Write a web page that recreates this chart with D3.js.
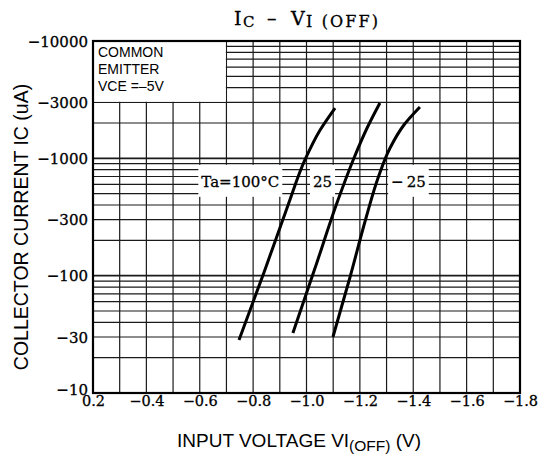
<!DOCTYPE html>
<html>
<head>
<meta charset="utf-8">
<script src="https://cdn.jsdelivr.net/npm/d3@7"></script>
<style>
  body { margin: 0; background: #fff; }
  svg { display: block; }
</style>
</head>
<body>
<main></main>
<script>
const w = 546;
const h = 455;
const plotLeft = 93;
const plotRight = 520;
const plotTop = 41;
const plotBottom = 393;

// axis ticks
const xTickValues = [-0.2, -0.4, -0.6, -0.8, -1.0, -1.2, -1.4, -1.6, -1.8];
const xTickLabels = ["0.2", "\u22120.4", "\u22120.6", "\u22120.8", "\u22121.0", "\u22121.2", "\u22121.4", "\u22121.6", "\u22121.8"];
const yTickValues = [10, 30, 100, 300, 1000, 3000, 10000];
const yTickLabels = ["\u221210", "\u221230", "\u2212100", "\u2212300", "\u22121000", "\u22123000", "\u221210000"];

// curves: input voltage (V) vs |collector current| (uA)
const seriesNames = ["Ta=100\u00b0C", "25", "\u2212\u200925"];
const vin100 = [-0.747, -0.841, -0.931, -0.994, -1.051, -1.107];
const ic100 = [28.3, 107, 400, 968, 1744, 2685];
const vin25 = [-0.949, -1.032, -1.118, -1.178, -1.227, -1.275];
const ic25 = [32.5, 116, 441, 1007, 1813, 2962];
const vinM25 = [-1.099, -1.163, -1.223, -1.268, -1.313, -1.365, -1.425];
const icM25 = [30, 97, 310, 680, 1225, 1924, 2738];

const noteLines = ["COMMON", "EMITTER", "VCE =\u20135V"];

const svg = d3
  .select("main")
  .append("svg")
  .attr("width", w)
  .attr("height", h);

const x = d3.scaleLinear().domain([-0.2, -1.8]).range([plotLeft, plotRight]);
const y = d3.scaleLog().domain([10, 10000]).range([plotBottom, plotTop]);

const grid = svg.append("g").attr("stroke", "#1a1a1a");

// vertical grid every 0.1 V
const xGrid = d3.range(17).map((i) => -0.2 - i * 0.1);
grid
  .selectAll(".vline")
  .data(xGrid)
  .join("line")
  .attr("x1", (d) => x(d))
  .attr("x2", (d) => x(d))
  .attr("y1", plotTop)
  .attr("y2", plotBottom)
  .attr("stroke-width", 1.2);

// horizontal log grid
const yGrid = [];
[10, 100, 1000].forEach((dec) => {
  for (let k = 1; k < 10; k++) yGrid.push(k * dec);
});
yGrid.push(10000);
grid
  .selectAll(".hline")
  .data(yGrid)
  .join("line")
  .attr("x1", plotLeft)
  .attr("x2", plotRight)
  .attr("y1", (d) => y(d))
  .attr("y2", (d) => y(d))
  .attr("stroke-width", (d) => ([10, 100, 1000, 10000].includes(d) ? 1.8 : 1.2));

// note box in the corner
svg
  .append("rect")
  .attr("x", x(-0.2))
  .attr("y", y(10000))
  .attr("width", x(-0.7) - x(-0.2) - 0.6)
  .attr("height", y(3000) - y(10000) - 0.6)
  .attr("fill", "#fff");

svg
  .append("g")
  .selectAll("text")
  .data(noteLines)
  .join("text")
  .attr("x", plotLeft + 5)
  .attr("y", (d, i) => plotTop + 16 + i * 16.8)
  .attr("font-family", "Liberation Sans, Arial, sans-serif")
  .attr("font-size", 14)
  .attr("fill", "#000")
  .text((d) => d);

// curves
const line = d3
  .line()
  .x((d) => x(d[0]))
  .y((d) => y(d[1]))
  .curve(d3.curveMonotoneY);

const curves = [
  d3.zip(vin100, ic100),
  d3.zip(vin25, ic25),
  d3.zip(vinM25, icM25),
];

svg
  .append("g")
  .selectAll("path")
  .data(curves)
  .join("path")
  .attr("d", line)
  .attr("fill", "none")
  .attr("stroke", "#000")
  .attr("stroke-width", 3)
  .attr("stroke-linecap", "butt");

// curve labels with white backing
const labelPos = [
  [-0.752, 640],
  [-1.06, 640],
  [-1.382, 640],
];
const labels = svg.append("g");
seriesNames.forEach((name, i) => {
  const g = labels.append("g");
  const t = g
    .append("text")
    .attr("x", x(labelPos[i][0]))
    .attr("y", y(labelPos[i][1]) + 6)
    .attr("text-anchor", "middle")
    .attr("font-family", "DejaVu Serif, serif")
    .attr("font-size", 15)
    .attr("stroke", "#000")
    .attr("stroke-width", 0.3)
    .text(name);
  const bb = t.node().getBBox();
  g.insert("rect", "text")
    .attr("x", bb.x - 3)
    .attr("y", y(880))
    .attr("width", bb.width + 6)
    .attr("height", y(470) - y(880))
    .attr("fill", "#fff");
});

// frame
svg
  .append("rect")
  .attr("x", plotLeft)
  .attr("y", plotTop)
  .attr("width", plotRight - plotLeft)
  .attr("height", plotBottom - plotTop)
  .attr("fill", "none")
  .attr("stroke", "#000")
  .attr("stroke-width", 2.2);

// axes labels
const xAxis = svg
  .append("g")
  .attr("transform", `translate(0, ${plotBottom + 2})`)
  .call(
    d3
      .axisBottom(x)
      .tickValues(xTickValues)
      .tickSize(0)
      .tickPadding(0)
      .tickFormat((d, i) => xTickLabels[i])
  );
xAxis.select(".domain").remove();
xAxis
  .selectAll("text")
  .attr("dy", null)
  .attr("y", 11)
  .attr("fill", "#000")
  .attr("stroke", "#000")
  .attr("stroke-width", 0.3)
  .attr("font-family", "DejaVu Serif, serif")
  .attr("font-size", 14.5);

const yAxis = svg
  .append("g")
  .attr("transform", `translate(${plotLeft - 5}, 0)`)
  .call(
    d3
      .axisLeft(y)
      .tickValues(yTickValues)
      .tickSize(0)
      .tickPadding(0)
      .tickFormat((d, i) => yTickLabels[i])
  );
yAxis.select(".domain").remove();
yAxis
  .selectAll("text")
  .attr("dy", (d) => (d === 10 ? "0.1em" : "0.35em"))
  .attr("fill", "#000")
  .attr("stroke", "#000")
  .attr("stroke-width", 0.3)
  .attr("font-family", "DejaVu Serif, serif")
  .attr("font-size", 15);

// title
const titleFont = "DejaVu Serif, serif";
const titleParts = [
  { t: "I", x: 234, y: 25, s: 19 },
  { t: "C", x: 243, y: 27, s: 15 },
  { t: "\u2013", x: 267, y: 25, s: 19 },
  { t: "V", x: 291, y: 25, s: 19 },
];
svg
  .append("g")
  .selectAll("text")
  .data(titleParts)
  .join("text")
  .attr("x", (d) => d.x)
  .attr("y", (d) => d.y)
  .attr("font-size", (d) => d.s)
  .attr("font-family", titleFont)
  .attr("fill", "#000")
  .attr("stroke", "#000")
  .attr("stroke-width", 0.3)
  .text((d) => d.t);
svg
  .append("text")
  .attr("x", 306)
  .attr("y", 27)
  .attr("font-size", 16)
  .attr("font-family", titleFont)
  .attr("textLength", 72)
  .attr("lengthAdjust", "spacing")
  .attr("fill", "#000")
  .attr("stroke", "#000")
  .attr("stroke-width", 0.3)
  .text("I (OFF)");

// axis titles
const xTitle = svg
  .append("text")
  .attr("x", 177)
  .attr("y", 447)
  .attr("font-family", "Liberation Sans, Arial, sans-serif")
  .attr("font-size", 19)
  .attr("fill", "#000");
xTitle.append("tspan").text("INPUT VOLTAGE VI");
xTitle.append("tspan").attr("dy", 4).attr("font-size", 15.5).text("(OFF)");
xTitle.append("tspan").attr("dy", -4).text(" (V)");

svg
  .append("text")
  .attr("transform", "translate(28, 227) rotate(-90)")
  .attr("text-anchor", "middle")
  .attr("font-family", "Liberation Sans, Arial, sans-serif")
  .attr("font-size", 19.5)
  .attr("fill", "#000")
  .text("COLLECTOR CURRENT IC (uA)");
</script>
</body>
</html>
